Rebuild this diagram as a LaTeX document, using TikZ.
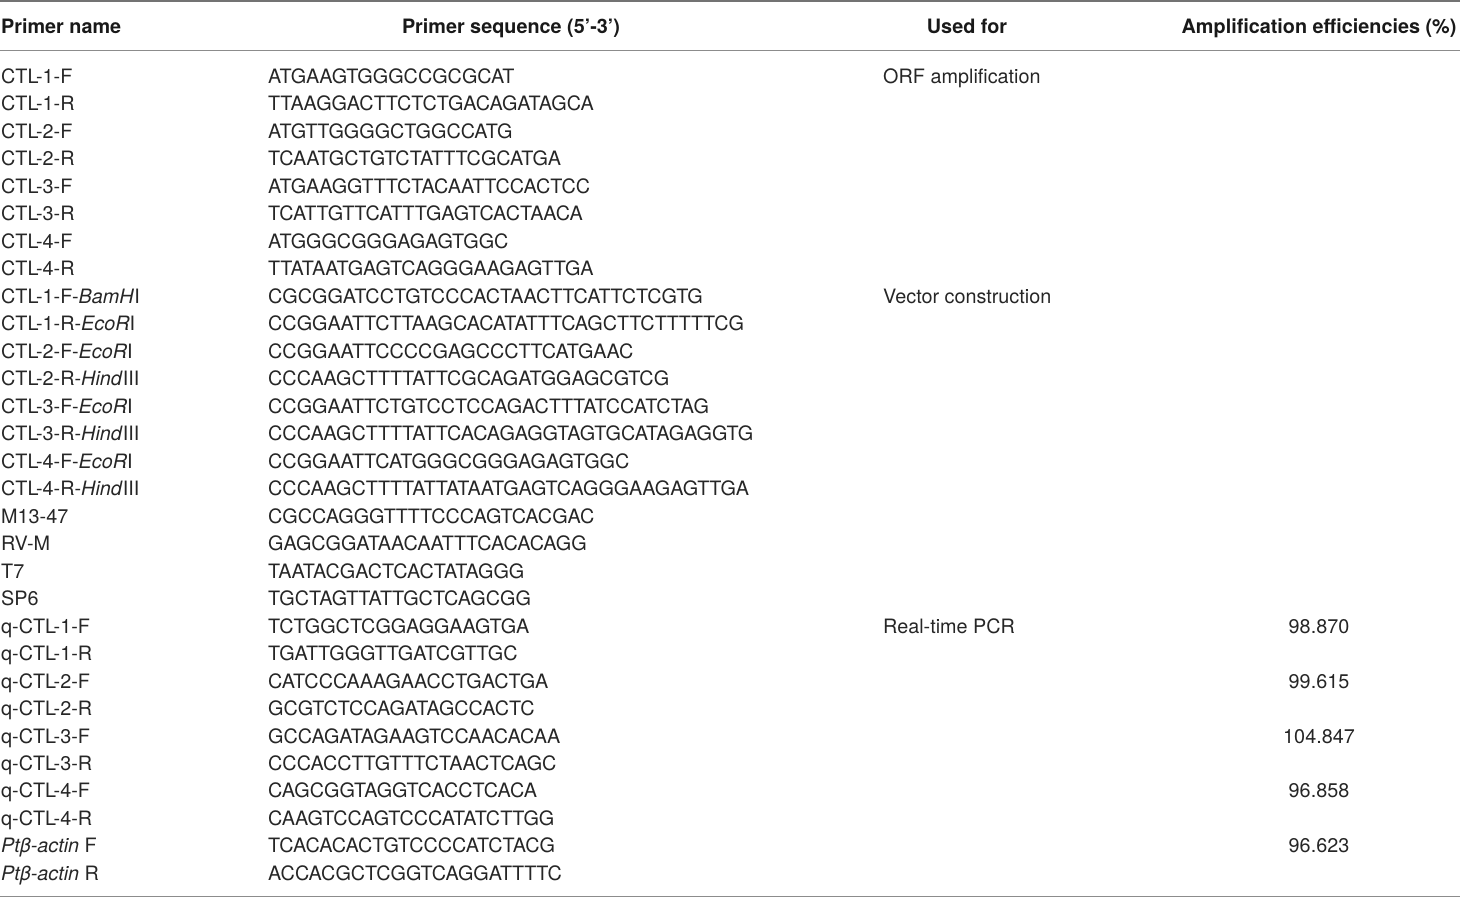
\documentclass[tikz,border=0pt]{standalone}
\usepackage{fontspec}
\setmainfont{TeX Gyre Heros}
\begin{document}
\begin{tikzpicture}[x=1pt,y=-1pt,
  cell/.style={inner sep=0pt,anchor=base west,font=\fontsize{19.8}{23}\selectfont,text=black!85},
  numcell/.style={inner sep=0pt,anchor=base,font=\fontsize{19.8}{23}\selectfont,text=black!85},
  headcell/.style={inner sep=0pt,anchor=base,font=\fontsize{19.8}{23}\selectfont\bfseries,text=black!90},
  rulestyle/.style={line width=1.6pt,draw=black!45}]
\useasboundingbox (0,0) rectangle (1460,898);
\draw[rulestyle,line width=2pt,draw=black!55] (0,1) coordinate (t0) -- (1460,1) coordinate (t1);
\draw[rulestyle] (0,50.5) coordinate (h0) -- (1460,50.5) coordinate (h1);
\draw[rulestyle] (0,896.5) coordinate (b0) -- (1460,896.5) coordinate (b1);
% headers
\node[headcell,anchor=base west] (hA) at (1,33.5) {Primer name};
\node[headcell] (hB) at (511,33.5) {Primer sequence (5’-3’)};
\node[headcell] (hC) at (967,33.5) {Used for};
\node[headcell] (hD) at (1319,33.5) {Amplification efficiencies (\%)};
% rows
\foreach \i/\nm/\sq in {
0/{CTL-1-F}/{ATGAAGTGGGCCGCGCAT},
1/{CTL-1-R}/{TTAAGGACTTCTCTGACAGATAGCA},
2/{CTL-2-F}/{ATGTTGGGGCTGGCCATG},
3/{CTL-2-R}/{TCAATGCTGTCTATTTCGCATGA},
4/{CTL-3-F}/{ATGAAGGTTTCTACAATTCCACTCC},
5/{CTL-3-R}/{TCATTGTTCATTTGAGTCACTAACA},
6/{CTL-4-F}/{ATGGGCGGGAGAGTGGC},
7/{CTL-4-R}/{TTATAATGAGTCAGGGAAGAGTTGA},
8/{CTL-1-F-\textit{BamH}I}/{CGCGGATCCTGTCCCACTAACTTCATTCTCGTG},
9/{CTL-1-R-\textit{EcoR}I}/{CCGGAATTCTTAAGCACATATTTCAGCTTCTTTTTCG},
10/{CTL-2-F-\textit{EcoR}I}/{CCGGAATTCCCCGAGCCCTTCATGAAC},
11/{CTL-2-R-\textit{Hind}III}/{CCCAAGCTTTTATTCGCAGATGGAGCGTCG},
12/{CTL-3-F-\textit{EcoR}I}/{CCGGAATTCTGTCCTCCAGACTTTATCCATCTAG},
13/{CTL-3-R-\textit{Hind}III}/{CCCAAGCTTTTATTCACAGAGGTAGTGCATAGAGGTG},
14/{CTL-4-F-\textit{EcoR}I}/{CCGGAATTCATGGGCGGGAGAGTGGC},
15/{CTL-4-R-\textit{Hind}III}/{CCCAAGCTTTTATTATAATGAGTCAGGGAAGAGTTGA},
16/{M13-47}/{CGCCAGGGTTTTCCCAGTCACGAC},
17/{RV-M}/{GAGCGGATAACAATTTCACACAGG},
18/{T7}/{TAATACGACTCACTATAGGG},
19/{SP6}/{TGCTAGTTATTGCTCAGCGG},
20/{q-CTL-1-F}/{TCTGGCTCGGAGGAAGTGA},
21/{q-CTL-1-R}/{TGATTGGGTTGATCGTTGC},
22/{q-CTL-2-F}/{CATCCCAAAGAACCTGACTGA},
23/{q-CTL-2-R}/{GCGTCTCCAGATAGCCACTC},
24/{q-CTL-3-F}/{GCCAGATAGAAGTCCAACACAA},
25/{q-CTL-3-R}/{CCCACCTTGTTTCTAACTCAGC},
26/{q-CTL-4-F}/{CAGCGGTAGGTCACCTCACA},
27/{q-CTL-4-R}/{CAAGTCCAGTCCCATATCTTGG},
28/{\textit{Ptβ-actin} F}/{TCACACACTGTCCCCATCTACG},
29/{\textit{Ptβ-actin} R}/{ACCACGCTCGGTCAGGATTTTC}}{
  \node[cell] (n\i) at (1,83.5+27.48*\i) {\nm};
  \node[cell] (s\i) at (268,83.5+27.48*\i) {\sq};
}
\node[cell] (u0) at (883,83.5) {ORF amplification};
\node[cell] (u8) at (883,83.5+27.48*8) {Vector construction};
\node[cell] (u20) at (883,83.5+27.48*20) {Real-time PCR};
\node[numcell] (e20) at (1319,83.5+27.48*20) {98.870};
\node[numcell] (e22) at (1319,83.5+27.48*22) {99.615};
\node[numcell] (e24) at (1319,83.5+27.48*24) {104.847};
\node[numcell] (e26) at (1319,83.5+27.48*26) {96.858};
\node[numcell] (e28) at (1319,83.5+27.48*28) {96.623};
\end{tikzpicture}
\end{document}
